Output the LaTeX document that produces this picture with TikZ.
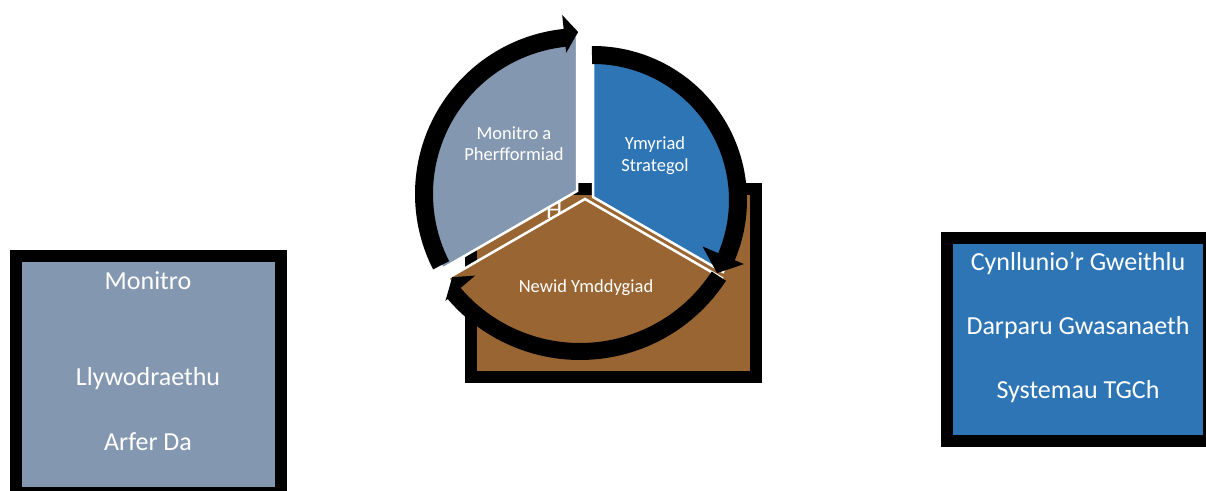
\documentclass[tikz,border=0pt]{standalone}
\usepackage{fontspec}
\setmainfont{Carlito}
\usetikzlibrary{calc}
\definecolor{slate}{RGB}{132,151,176}
\definecolor{azure}{RGB}{46,117,182}
\definecolor{umber}{RGB}{153,102,51}
% ring arrow: centre, tail angle, head base angle, tip angle,
% inner radius, outer radius, inner wing radius, outer wing radius, tip radius
\newcommand{\ringarrow}[9]{%
  \fill ($(#1)+({#2}:{#5})$) arc[start angle=#2,end angle=#3,radius=#5]
    -- ($(#1)+({#3}:{#7})$) -- ($(#1)+({#4}:{#9})$) -- ($(#1)+({#3}:{#8})$)
    -- ($(#1)+({#3}:{#6})$) arc[start angle=#3,end angle=#2,radius=#6] -- cycle;}
\begin{document}
\begin{tikzpicture}[x=1pt,y=1pt,
  boxtext/.style={text=white,font=\fontsize{26}{31}\selectfont,anchor=base,inner sep=0pt},
  segtext/.style={text=white,font=\fontsize{18.5}{21}\selectfont,anchor=base,inner sep=0pt},
  segment/.style={draw=white,line width=2.5pt,line join=miter},
  framed/.style={draw=black,line width=12pt},
]
\useasboundingbox (0,0) rectangle (1206,-490);
\clip (0,0) rectangle (1206,-490);

% side panels
\draw[framed,fill=slate] (16,-256) rectangle (281,-493);
\node[boxtext] (l1) at (148,-289) {Monitro};
\node[boxtext] (l2) at (148,-385) {Llywodraethu};
\node[boxtext] (l3) at (148,-450) {Arfer Da};

\draw[framed,fill=azure] (947,-237.5) rectangle (1209,-441);
\node[boxtext] (r1) at (1078,-270) {Cynllunio’r Gweithlu};
\node[boxtext] (r2) at (1078,-334) {Darparu Gwasanaeth};
\node[boxtext] (r3) at (1078,-398) {Systemau TGCh};

% panel behind the cycle
\draw[framed,fill=umber] (471,-189) rectangle (756,-377);
\node[boxtext,anchor=base west] (h) at (546,-218) {H};

% pie segments
\coordinate (cg) at (577,-191);
\coordinate (cb) at (593,-197);
\coordinate (cn) at (585,-199);
\filldraw[segment,fill=slate] (cg) -- ++(90:155) arc[start angle=90,end angle=210,radius=155] -- cycle;
\filldraw[segment,fill=azure] (cb) -- ++(90:150) arc[start angle=90,end angle=-30,radius=150] -- cycle;
\filldraw[segment,fill=umber] (cn) -- ++(210:158) arc[start angle=210,end angle=330,radius=158] -- cycle;

\node[segtext] (g1) at (514,-139) {Monitro a};
\node[segtext] (g2) at (514,-160) {Pherfformiad};
\node[segtext] (b1) at (655,-149) {Ymyriad};
\node[segtext] (b2) at (655,-171) {Strategol};
\node[segtext] (n1) at (586,-292) {Newid Ymddygiad};

% circular arrows
\coordinate (a1) at (581,-194);
\coordinate (a2) at (593,-200);
\coordinate (a3) at (580,-186);
\ringarrow{a1}{207}{96}{91}{148}{166}{142}{180}{162}
\ringarrow{a2}{90.4}{-23}{-30.5}{136}{154}{119}{164}{144}
\ringarrow{a3}{-33}{-139.5}{-144.5}{157}{174}{138}{177}{157}
\end{tikzpicture}
\end{document}
